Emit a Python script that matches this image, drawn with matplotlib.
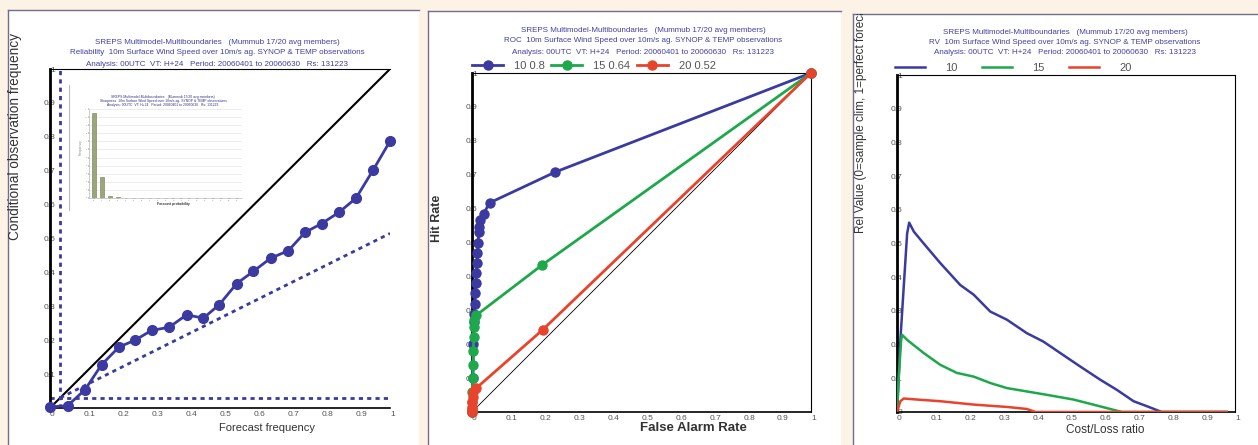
import matplotlib
matplotlib.use('Agg')
import matplotlib.pyplot as plt
from matplotlib.patches import Rectangle
from matplotlib.lines import Line2D
from matplotlib.transforms import Bbox, TransformedBbox

plt.rcParams['font.family'] = ['Liberation Sans', 'DejaVu Sans']

# ---------- Data: reliability diagram ----------
rel_fc = [0.0, 0.052, 0.103, 0.152, 0.203, 0.25, 0.299, 0.35, 0.402, 0.451, 0.498,
          0.549, 0.598, 0.649, 0.701, 0.75, 0.799, 0.851, 0.9, 0.951, 1.0]
rel_obs = [0.003, 0.007, 0.054, 0.128, 0.18, 0.20, 0.229, 0.238, 0.275, 0.265, 0.305,
           0.367, 0.403, 0.442, 0.464, 0.518, 0.544, 0.578, 0.619, 0.703, 0.787]
clim = 0.03

# sharpness inset (relative counts per probability bin)
sharp_bins = list(range(19))
sharp_counts = [10.5, 2.6, 0.25, 0.1, 0.05, 0.04, 0.04, 0.04, 0.04, 0.04,
                0.04, 0.04, 0.04, 0.04, 0.04, 0.04, 0.04, 0.04, 0.04]

# ---------- Data: ROC ----------
roc_labels = ['10 0.8', '15 0.64', '20 0.52']
roc10_far = [0.0, 0.003, 0.004, 0.005, 0.006, 0.008, 0.01, 0.011, 0.013, 0.014, 0.016,
             0.018, 0.02, 0.022, 0.025, 0.034, 0.052, 0.246, 1.0]
roc10_hr = [0.0, 0.1, 0.2, 0.265, 0.29, 0.32, 0.35, 0.38, 0.41, 0.44, 0.47,
            0.50, 0.53, 0.545, 0.565, 0.585, 0.617, 0.708, 1.0]
roc15_far = [0.0, 0.0, 0.001, 0.001, 0.002, 0.003, 0.004, 0.005, 0.006, 0.007, 0.012, 0.206, 1.0]
roc15_hr = [0.0, 0.01, 0.03, 0.06, 0.10, 0.14, 0.18, 0.22, 0.25, 0.27, 0.285, 0.433, 1.0]
roc20_far = [0.0, 0.0, 0.0, 0.001, 0.002, 0.004, 0.012, 0.208, 1.0]
roc20_hr = [0.0, 0.005, 0.015, 0.03, 0.045, 0.06, 0.07, 0.242, 1.0]

# ---------- Data: relative value ----------
rv_labels = ['10', '15', '20']
rv10_cl = [0.0, 0.002, 0.01, 0.02, 0.03, 0.036, 0.05, 0.079, 0.128, 0.187, 0.227, 0.276,
           0.325, 0.384, 0.433, 0.483, 0.542, 0.601, 0.65, 0.70, 0.745, 0.783, 0.975]
rv10_val = [0.0, 0.037, 0.214, 0.373, 0.53, 0.562, 0.535, 0.50, 0.442, 0.377, 0.348, 0.298,
            0.274, 0.234, 0.209, 0.175, 0.135, 0.096, 0.066, 0.032, 0.015, 0.0, 0.0]
rv15_cl = [0.0, 0.005, 0.012, 0.015, 0.03, 0.079, 0.128, 0.177, 0.227, 0.276, 0.325,
           0.384, 0.443, 0.522, 0.60, 0.665, 0.975]
rv15_val = [0.0, 0.10, 0.21, 0.229, 0.214, 0.175, 0.14, 0.116, 0.105, 0.086, 0.071,
            0.061, 0.051, 0.037, 0.017, 0.0, 0.0]
rv20_cl = [0.0, 0.01, 0.02, 0.059, 0.128, 0.227, 0.325, 0.384, 0.41, 0.975]
rv20_val = [0.0, 0.032, 0.04, 0.037, 0.032, 0.022, 0.015, 0.009, 0.0, 0.0]

ticks = [0, 0.1, 0.2, 0.3, 0.4, 0.5, 0.6, 0.7, 0.8, 0.9, 1]
ticklabels = ['0', '0.1', '0.2', '0.3', '0.4', '0.5', '0.6', '0.7', '0.8', '0.9', '1']

# ---------- Figure ----------
W, H = 1258, 445
fig = plt.figure(figsize=(W / 100, H / 100), dpi=100, facecolor='#fdf2e6')

blue = '#3a3aa0'
green = '#1ea84c'
red = '#e8432c'
titlecol = '#4040a0'
border = '#70708c'


def px_axes(x0, y0, x1, y1):
    # pixel box (top-left origin) -> figure axes
    return fig.add_axes([x0 / W, 1 - y1 / H, (x1 - x0) / W, (y1 - y0) / H])


def panel(x0, y0, x1, y1):
    fig.add_artist(Rectangle((x0 / W, 1 - y1 / H), (x1 - x0) / W, (y1 - y0) / H,
                             transform=fig.transFigure, facecolor='white', edgecolor='none', zorder=0))
    fig.add_artist(Line2D([x0 / W, x1 / W], [1 - y0 / H, 1 - y0 / H], transform=fig.transFigure,
                          color=border, lw=1, zorder=1))
    fig.add_artist(Line2D([x0 / W, x0 / W], [1 - y0 / H, 1 - y1 / H], transform=fig.transFigure,
                          color=border, lw=1, zorder=1))


def style_axes(ax, right=True):
    ax.set_xlim(0, 1)
    ax.set_ylim(0, 1)
    ax.set_xticks(ticks)
    ax.set_yticks(ticks)
    ax.set_xticklabels(ticklabels)
    ax.set_yticklabels(ticklabels)
    ax.tick_params(length=0, labelsize=6, labelcolor='#555555')
    ax.tick_params(axis='y', pad=-4)
    ax.tick_params(axis='x', pad=2)
    for lab in ax.get_xticklabels():
        lab.set_ha('left')
    ax.spines['left'].set_linewidth(2)
    ax.spines['bottom'].set_linewidth(1.2)
    ax.spines['top'].set_linewidth(0.8)
    ax.spines['right'].set_linewidth(0.8)
    ax.spines['right'].set_visible(right)
    ax.set_facecolor('none')


def titles(xc, ys, lines):
    for y, t in zip(ys, lines):
        fig.text(xc / W, 1 - y / H, t, ha='center', va='center', fontsize=5.8, color=titlecol)


panel(8, 10, 419, 445)
panel(428, 11, 841, 445)
panel(853, 14, 1258, 445)

# ---------- Panel 1: reliability ----------
ax1 = px_axes(50, 69, 390, 408)
style_axes(ax1, right=False)
ax1.plot([0, 1], [0, 1], color='black', lw=1.5, zorder=2)
ax1.plot([clim, 1], [clim, (1 + clim) / 2], color=blue, lw=2, ls=(0, (1.5, 1.5)), zorder=2)
ax1.axhline(clim, color=blue, lw=2, ls=(0, (1.5, 1.5)), zorder=2)
ax1.axvline(clim, color=blue, lw=2, ls=(0, (1.5, 1.5)), zorder=2)
ax1.plot(rel_fc, rel_obs, color=blue, lw=2, marker='o', ms=7, clip_on=False, zorder=3)
titles(217, [43, 53, 64], [
    'SREPS Multimodel-Multiboundaries   (Mummub 17/20 avg members)',
    'Reliability  10m Surface Wind Speed over 10m/s ag. SYNOP & TEMP observations',
    'Analysis: 00UTC  VT: H+24   Period: 20060401 to 20060630   Rs: 131223'])
fig.text(15 / W, 1 - 136 / H, 'Conditional observation frequency', rotation=90,
         ha='center', va='center', fontsize=9.8, color='#333333')
fig.text(267 / W, 1 - 428 / H, 'Forecast frequency', ha='center', va='center',
         fontsize=8, color='#333333')

# sharpness inset
fig.add_artist(Line2D([69 / W, 69 / W], [1 - 85 / H, 1 - 210 / H], transform=fig.transFigure,
                      color='#bbbbbb', lw=0.8))
axi = px_axes(89, 109, 242, 198)
axi.bar(sharp_bins, sharp_counts, width=0.5, color='#9aa77a', edgecolor='#6f7d50', lw=0.4, zorder=2)
axi.set_xlim(-0.6, 18.6)
axi.set_ylim(0, 11)
axi.set_yticks(range(12))
axi.set_xticks(sharp_bins)
axi.tick_params(labelsize=1.5, length=1, width=0.3, labelcolor='#777777', pad=0.5)
axi.grid(axis='y', color='#dddddd', lw=0.4)
for s in axi.spines.values():
    s.set_color('#aaaaaa')
    s.set_linewidth(0.4)
axi.spines['top'].set_visible(False)
axi.spines['right'].set_visible(False)
for y, t in zip([97, 101, 105], [
        'SREPS Multimodel-Multiboundaries   (Mummub 17/20 avg members)',
        'Sharpness  10m Surface Wind Speed over 10m/s ag. SYNOP & TEMP observations',
        'Analysis: 00UTC  VT: H+24   Period: 20060401 to 20060630   Rs: 131223']):
    fig.text(163 / W, 1 - y / H, t, ha='center', va='center', fontsize=2.4, color='#303080')
fig.text(81 / W, 1 - 147 / H, 'Frequency', rotation=90, ha='center', va='center',
         fontsize=2.4, color='#888888')
fig.text(173 / W, 1 - 204 / H, 'Forecast probability', ha='center', va='center',
         fontsize=2.4, color='#333333', fontweight='bold')

# ---------- Panel 2: ROC ----------
ax2 = px_axes(472, 73, 811, 412)
style_axes(ax2)
ax2.plot([0, 1], [0, 1], color='black', lw=0.6, zorder=2)
ax2.plot(roc10_far, roc10_hr, color=blue, lw=2, marker='o', ms=6.5, clip_on=False,
         zorder=3, label=roc_labels[0])
ax2.plot(roc15_far, roc15_hr, color=green, lw=2, marker='o', ms=6.5, clip_on=False,
         zorder=4, label=roc_labels[1])
ax2.plot(roc20_far, roc20_hr, color=red, lw=2, marker='o', ms=6.5, clip_on=False,
         zorder=5, label=roc_labels[2])
leg2 = ax2.legend(ncol=3, loc='center left', bbox_to_anchor=(0, 1.02), frameon=False,
                  fontsize=8, handlelength=2.8, handletextpad=1.0, columnspacing=0.55,
                  borderpad=0, borderaxespad=0, numpoints=1)
for t in leg2.get_texts():
    t.set_color('#555555')
titles(643, [31, 41, 52], [
    'SREPS Multimodel-Multiboundaries   (Mummub 17/20 avg members)',
    'ROC  10m Surface Wind Speed over 10m/s ag. SYNOP & TEMP observations',
    'Analysis: 00UTC  VT: H+24   Period: 20060401 to 20060630   Rs: 131223'])
fig.text(437 / W, 1 - 218 / H, 'Hit Rate', rotation=90, ha='center', va='center',
         fontsize=9, fontweight='bold', color='#333333')
fig.text(693 / W, 1 - 428 / H, 'False Alarm Rate', ha='center', va='center',
         fontsize=9.5, fontweight='bold', color='#333333')

# ---------- Panel 3: relative value ----------
ax3 = px_axes(897, 75, 1235, 412)
style_axes(ax3)
ax3.plot(rv10_cl, rv10_val, color=blue, lw=1.8, zorder=3, label=rv_labels[0])
ax3.plot(rv15_cl, rv15_val, color=green, lw=1.8, zorder=4, label=rv_labels[1])
ax3.plot(rv20_cl, rv20_val, color=red, lw=1.8, zorder=5, label=rv_labels[2])
leg3 = ax3.legend(ncol=3, loc='center left', bbox_to_anchor=(-0.005, 1.022), frameon=False,
                  fontsize=8, handlelength=2.7, handletextpad=1.8, columnspacing=2.2,
                  borderpad=0, borderaxespad=0)
for t in leg3.get_texts():
    t.set_color('#555555')
titles(1065, [32, 43, 53], [
    'SREPS Multimodel-Multiboundaries   (Mummub 17/20 avg members)',
    'RV  10m Surface Wind Speed over 10m/s ag. SYNOP & TEMP observations',
    'Analysis: 00UTC  VT: H+24   Period: 20060401 to 20060630   Rs: 131223'])
ylab3 = fig.text(861 / W, 1 - 233 / H, 'Rel Value (0=sample clim, 1=perfect forecast)',
                 rotation=90, ha='center', va='bottom', fontsize=8.5, color='#333333')
ylab3.set_clip_on(True)
ylab3.set_clip_box(TransformedBbox(Bbox([[853 / W, 0], [1, 1 - 14 / H]]), fig.transFigure))
fig.text(1105 / W, 1 - 430 / H, 'Cost/Loss ratio', ha='center', va='center',
         fontsize=8.5, color='#333333')

fig.savefig('out.png', dpi=100, facecolor=fig.get_facecolor())
